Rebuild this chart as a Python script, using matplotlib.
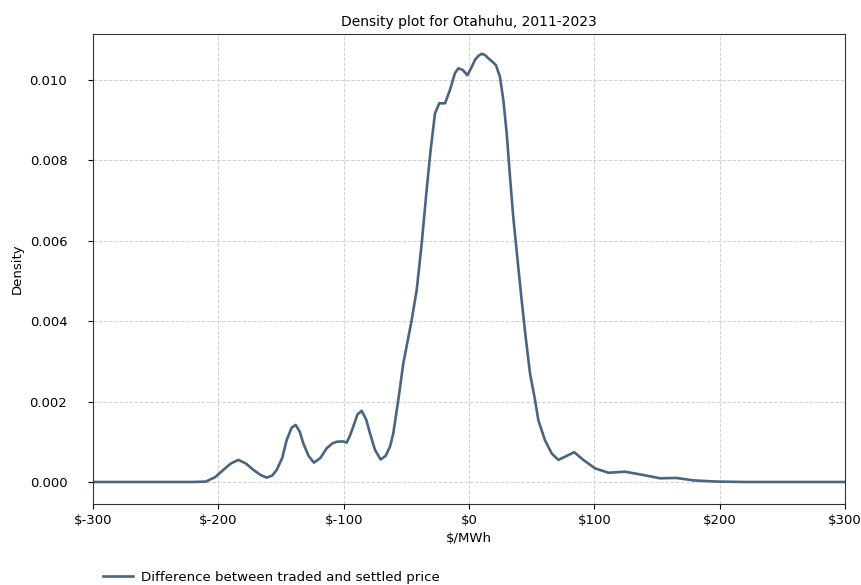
import matplotlib.pyplot as plt
from matplotlib.ticker import FuncFormatter

# density curve (x in $/MWh, y density)
price_diff = [-300, -250, -220, -210, -202.7, -196, -190, -184, -178, -172, -166, -161.4,
              -157, -153.4, -149, -145.5, -141.5, -138.3, -135, -132.2, -128, -123.7,
              -118.5, -113.5, -109, -105.6, -101, -97.6, -95, -92.3, -89, -85.6, -82,
              -79, -75, -70.5, -66.5, -63, -60.4, -56.4, -52.4, -45.7, -41.7, -37.7,
              -33.8, -30.6, -27.1, -23.7, -19.1, -15.2, -11.2, -8.5, -5, -1.3, 1.8,
              4.8, 7.5, 10.1, 12.8, 15.4, 18.5, 21.5, 24.7, 27.4, 30.1, 32.7, 35.3,
              38.5, 42, 45.2, 48.7, 52.7, 55.3, 60.6, 66, 71.3, 78, 84, 91.2, 100.5,
              111.2, 124.5, 139.1, 152.4, 165.7, 179, 197.6, 220, 260, 300]
density = [0, 0, 0, 0.00001, 0.000117, 0.0003, 0.00046, 0.00055, 0.00046, 0.0003, 0.00017,
           0.000108, 0.00016, 0.0003, 0.0006, 0.00104, 0.00135, 0.00142, 0.00125, 0.00096,
           0.00065, 0.00048, 0.0006, 0.00084, 0.00096, 0.001, 0.00101, 0.00098, 0.00115,
           0.00138, 0.00168, 0.00177, 0.00155, 0.00121, 0.0008, 0.00056, 0.00065, 0.00088,
           0.00121, 0.00204, 0.00295, 0.00403, 0.00478, 0.00594, 0.00726, 0.00826, 0.00917,
           0.00942, 0.00942, 0.00975, 0.01017, 0.01029, 0.01025, 0.01012, 0.0103, 0.0105,
           0.0106, 0.01065, 0.01062, 0.01054, 0.01046, 0.01037, 0.01008, 0.0095, 0.00867,
           0.0076, 0.0066, 0.0056, 0.00453, 0.00361, 0.0027, 0.00204, 0.00154, 0.00104,
           0.00071, 0.00055, 0.00065, 0.00074, 0.00055, 0.00034, 0.00023, 0.000256,
           0.000174, 0.000092, 0.0001, 0.00004, 0.00001, 0, 0, 0]

fig = plt.figure(figsize=(8.61, 5.85), dpi=100)
ax = fig.add_axes([0.108, 0.1385, 0.8734, 0.8034])

ax.plot(price_diff, density, color='#4a6580', linewidth=1.9,
        label='Difference between traded and settled price')

ax.set_xlim(-300, 300)
ax.set_ylim(-0.000547, 0.011144)
ax.set_xticks(range(-300, 301, 100))
ax.set_yticks([0, 0.002, 0.004, 0.006, 0.008, 0.010])
ax.xaxis.set_major_formatter(FuncFormatter(lambda v, p: r'\$' + str(int(v))))
ax.yaxis.set_major_formatter(FuncFormatter(lambda v, p: f'{v:.3f}'))
ax.tick_params(axis='y', pad=15, labelsize=9.5)
ax.tick_params(axis='x', labelsize=9.5)
ax.grid(True, linestyle='--', color='#d0d0d0', linewidth=0.7)
ax.set_axisbelow(True)
for s in ax.spines.values():
    s.set_color('#333333')

ax.set_title('Density plot for Otahuhu, 2011-2023', fontsize=10)
ax.set_xlabel(r'\$/MWh', fontsize=9.5)
ax.set_ylabel('Density', fontsize=9.5)

fig.legend(loc='center left', bbox_to_anchor=(0.106, 0.013), frameon=False,
           fontsize=9.6, handlelength=2.2, handletextpad=0.6)

fig.savefig('out.png', dpi=100)
